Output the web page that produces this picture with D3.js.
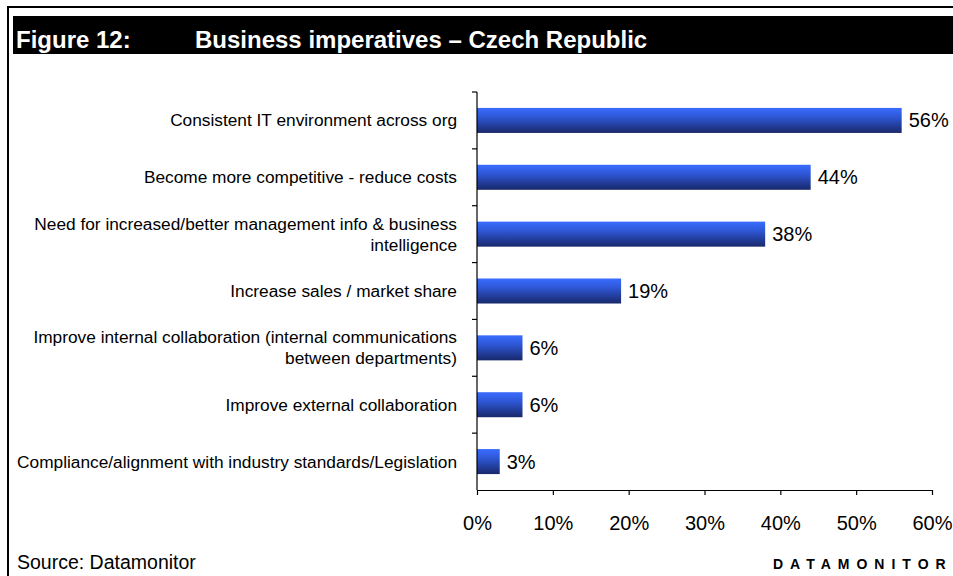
<!DOCTYPE html>
<html>
<head>
<meta charset="utf-8">
<script src="https://cdn.jsdelivr.net/npm/d3@7/dist/d3.min.js"></script>
<style>
  html, body { margin: 0; padding: 0; background: #fff; }
  svg { display: block; font-family: Arial, "Liberation Sans", sans-serif; }
</style>
</head>
<body>
<svg id="chart" width="953" height="576"></svg>
<script>
// Business imperatives – Czech Republic (share of respondents, %)
const categories = [
  ["Consistent IT environment across org"],
  ["Become more competitive - reduce costs"],
  ["Need for increased/better management info & business", "intelligence"],
  ["Increase sales / market share"],
  ["Improve internal collaboration (internal communications", "between departments)"],
  ["Improve external collaboration"],
  ["Compliance/alignment with industry standards/Legislation"]
];
const values = [56, 44, 38, 19, 6, 6, 3];
const xTicks = [0, 10, 20, 30, 40, 50, 60];

const svg = d3.select("#chart");
const W = 953, H = 576;

// Frame lines
svg.append("line").attr("x1", 7).attr("x2", W).attr("y1", 7).attr("y2", 7)
  .attr("stroke", "#000").attr("stroke-width", 2);
svg.append("line").attr("x1", 8).attr("x2", 8).attr("y1", 6).attr("y2", H)
  .attr("stroke", "#000").attr("stroke-width", 2);

// Title bar
svg.append("rect").attr("x", 13).attr("y", 16).attr("width", W - 13).attr("height", 38).attr("fill", "#000");
svg.append("text").attr("x", 16).attr("y", 48).attr("fill", "#fff")
  .attr("font-size", 24).attr("font-weight", "bold")
  .text("Figure 12:");
svg.append("text").attr("x", 195).attr("y", 48).attr("fill", "#fff")
  .attr("font-size", 24).attr("font-weight", "bold")
  .text("Business imperatives – Czech Republic");

// Scales
const x0 = 477, x1 = 932, yTop = 92, yBot = 490;
const x = d3.scaleLinear().domain([0, 60]).range([x0, x1]);
const idx = d3.range(categories.length);
const y = d3.scaleBand().domain(idx).range([yTop, yBot]).paddingInner(0.56).paddingOuter(0.28);

// Gradient for bars
const defs = svg.append("defs");
const grad = defs.append("linearGradient").attr("id", "barGrad")
  .attr("x1", 0).attr("y1", 0).attr("x2", 0).attr("y2", 1);
grad.append("stop").attr("offset", "0%").attr("stop-color", "#3a6cff");
grad.append("stop").attr("offset", "35%").attr("stop-color", "#2f58d8");
grad.append("stop").attr("offset", "100%").attr("stop-color", "#18286a");

// Bars
svg.append("g").selectAll("rect").data(values).join("rect")
  .attr("x", x(0))
  .attr("y", (d, i) => y(i))
  .attr("width", d => x(d) - x(0))
  .attr("height", y.bandwidth())
  .attr("fill", "url(#barGrad)");

// Value labels
svg.append("g").selectAll("text").data(values).join("text")
  .attr("x", d => x(d) + 7)
  .attr("y", (d, i) => y(i) + y.bandwidth() / 2 + 7)
  .attr("font-size", 20).attr("fill", "#000")
  .text(d => d + "%");

// Y axis (category boundaries as ticks)
const yAxisG = svg.append("g");
yAxisG.append("line").attr("x1", x0).attr("x2", x0).attr("y1", yTop).attr("y2", yBot)
  .attr("stroke", "#000").attr("stroke-width", 1.2);
const step = (yBot - yTop) / categories.length;
yAxisG.selectAll("line.tick").data(d3.range(categories.length)).join("line")
  .attr("class", "tick")
  .attr("x1", x0 - 5).attr("x2", x0)
  .attr("y1", i => yTop + i * step).attr("y2", i => yTop + i * step)
  .attr("stroke", "#000").attr("stroke-width", 1.2);

// Category labels
const catG = svg.append("g").attr("font-size", 17.3).attr("text-anchor", "end").attr("fill", "#000");
categories.forEach((lines, i) => {
  const cy = y(i) + y.bandwidth() / 2;
  const lh = 21;
  const start = cy + 6 - (lines.length - 1) * lh / 2;
  lines.forEach((ln, j) => {
    catG.append("text").attr("x", 457).attr("y", start + j * lh).text(ln);
  });
});

// X axis
const xAxis = d3.axisBottom(x).tickValues(xTicks).tickSize(5).tickSizeOuter(0).tickPadding(21)
  .tickFormat(d => d + "%");
const xg = svg.append("g").attr("transform", `translate(0,${yBot})`).call(xAxis);
xg.select(".domain").attr("stroke", "#000").attr("stroke-width", 1.2);
xg.selectAll(".tick line").attr("stroke", "#000").attr("stroke-width", 1.2);
xg.selectAll(".tick text").attr("font-size", 20).attr("fill", "#000")
  .attr("font-family", "Arial, 'Liberation Sans', sans-serif");

// Footer
svg.append("text").attr("x", 17).attr("y", 569).attr("font-size", 19.5).attr("fill", "#000")
  .text("Source: Datamonitor");
svg.append("text").attr("x", 773).attr("y", 569).attr("font-size", 14).attr("font-weight", "bold")
  .attr("letter-spacing", "7px").attr("fill", "#000").text("DATAMONITOR");
</script>
</body>
</html>
